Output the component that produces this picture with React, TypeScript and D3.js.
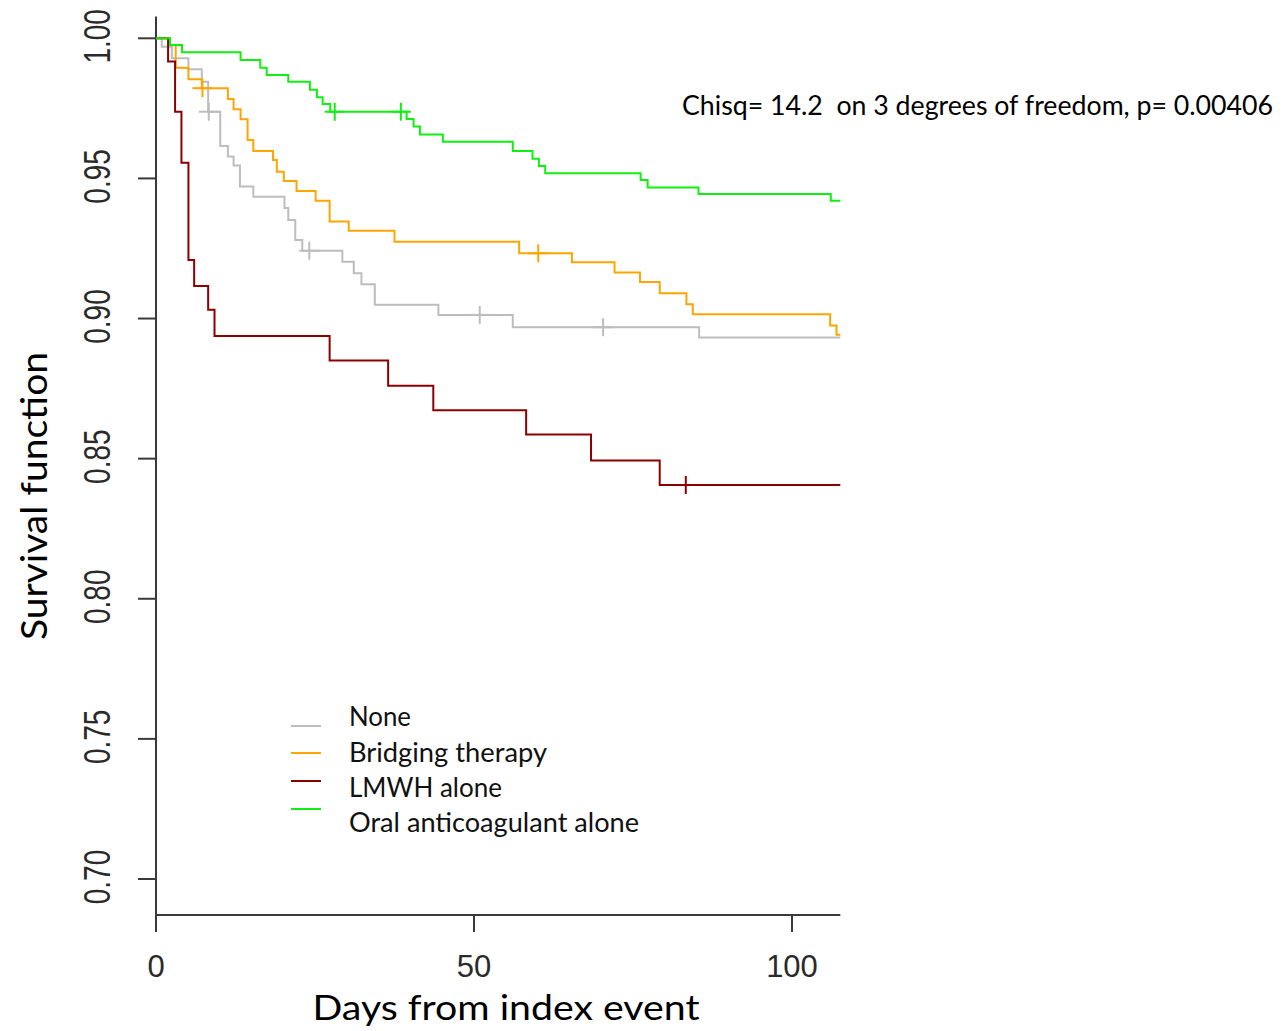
import React, { useEffect, useRef } from 'react';
import * as d3 from 'd3';

// Kaplan-Meier steps (day of drop, survival after drop)
const groupNames = ['None', 'Bridging therapy', 'LMWH alone', 'Oral anticoagulant alone'];
const groupColors = ['#bdbdbd', '#ffa500', '#8b0000', '#11ee11'];

const noneTimes = [0.9, 2.5, 5.1, 7.2, 8.2, 10.1, 11.3, 12.2, 13.2, 15.3, 20.2, 20.8, 21.9, 23.0, 29.3, 31.1, 32.3, 34.4, 44.4, 56.1, 85.4];
const noneSurv = [0.997, 0.9929, 0.989, 0.9845, 0.9738, 0.9616, 0.9578, 0.9546, 0.9471, 0.9435, 0.9394, 0.9352, 0.928, 0.9242, 0.9203, 0.9162, 0.9122, 0.9049, 0.9013, 0.8969, 0.8932];
const noneCensor = [8.3, 24.1, 50.9, 70.3];

const bridgingTimes = [2.2, 3.1, 5.1, 7.2, 11.3, 12.2, 13.3, 14.4, 15.3, 18.4, 19.0, 20.1, 22.1, 25.1, 27.3, 30.3, 37.5, 57.1, 65.4, 72.1, 76.1, 79.2, 83.4, 84.4, 106.0, 107.0];
const bridgingSurv = [0.9976, 0.9895, 0.9854, 0.9822, 0.9783, 0.9747, 0.9711, 0.9637, 0.9598, 0.9566, 0.9524, 0.9491, 0.9455, 0.942, 0.9346, 0.9313, 0.9274, 0.9233, 0.9201, 0.9164, 0.913, 0.909, 0.9051, 0.9015, 0.8975, 0.8942];
const bridgingCensor = [7.3, 60.1];

const lmwhTimes = [1.9, 3.0, 4.0, 5.1, 6.0, 8.2, 9.2, 27.3, 36.5, 43.6, 58.2, 68.4, 79.2];
const lmwhSurv = [0.9917, 0.9738, 0.9556, 0.9209, 0.9116, 0.9031, 0.8938, 0.885, 0.876, 0.8673, 0.8586, 0.8493, 0.8406];
const lmwhCensor = [83.3];

const oralTimes = [2.2, 4.1, 13.3, 16.4, 17.4, 20.8, 24.2, 25.3, 26.2, 27.4, 39.4, 40.5, 41.5, 45.1, 56.1, 59.2, 60.2, 61.2, 76.2, 77.3, 85.3, 106.1];
const oralSurv = [0.9976, 0.995, 0.9923, 0.9895, 0.9869, 0.9845, 0.9816, 0.979, 0.9766, 0.9738, 0.9712, 0.9685, 0.9657, 0.9631, 0.9598, 0.957, 0.9544, 0.9518, 0.9494, 0.9468, 0.9444, 0.942];
const oralCensor = [28.1, 38.5];

const xTicks = [0, 50, 100];
const yTicks = [0.70, 0.75, 0.80, 0.85, 0.90, 0.95, 1.00];
const xMax = 107.6;

const testLabel = 'Chisq= 14.2  on 3 degrees of freedom, p= 0.00406';
const xTitle = 'Days from index event';
const yTitle = 'Survival function';

const KMChart = () => {
  const svgRef = useRef<SVGSVGElement>(null);

  useEffect(() => {
    if (!svgRef.current) return;
    d3.select(svgRef.current).selectAll('*').remove();

    const width = 1284;
    const height = 1031;
    const svg = d3.select(svgRef.current).attr('width', width).attr('height', height);

    const x = d3.scaleLinear().domain([0, 100]).range([156, 792]);
    const y = d3.scaleLinear().domain([0.70, 1.00]).range([879, 38.3]);
    const axisColor = '#3a3a3a';
    const sans = 'Lato, "Open Sans", sans-serif';

    // axes lines
    const axisBottom = 915;
    svg.append('line')
      .attr('x1', x(0)).attr('x2', x(0))
      .attr('y1', 16.5).attr('y2', axisBottom)
      .attr('stroke', axisColor).attr('stroke-width', 2);
    svg.append('line')
      .attr('x1', x(0)).attr('x2', x(xMax))
      .attr('y1', axisBottom).attr('y2', axisBottom)
      .attr('stroke', axisColor).attr('stroke-width', 2);

    // y ticks
    svg.append('g').selectAll('line')
      .data(yTicks).enter().append('line')
      .attr('x1', x(0) - 18).attr('x2', x(0))
      .attr('y1', d => y(d)).attr('y2', d => y(d))
      .attr('stroke', axisColor).attr('stroke-width', 2);
    svg.append('g').selectAll('text')
      .data(yTicks).enter().append('text')
      .attr('transform', d => `translate(110, ${y(d) - 2}) rotate(-90) scale(1, 1.35)`)
      .attr('text-anchor', 'middle')
      .attr('font-family', '"Liberation Sans", Arial, sans-serif')
      .attr('font-size', 28)
      .attr('fill', '#2a2a2a')
      .text(d => d.toFixed(2));

    // x ticks
    svg.append('g').selectAll('line')
      .data(xTicks).enter().append('line')
      .attr('x1', d => x(d)).attr('x2', d => x(d))
      .attr('y1', axisBottom).attr('y2', axisBottom + 17)
      .attr('stroke', axisColor).attr('stroke-width', 2);
    svg.append('g').selectAll('text')
      .data(xTicks).enter().append('text')
      .attr('x', d => x(d)).attr('y', 977)
      .attr('text-anchor', 'middle')
      .attr('font-family', '"Liberation Sans", Arial, sans-serif')
      .attr('font-size', 31)
      .attr('fill', '#2a2a2a')
      .text(d => d);

    // titles
    svg.append('text')
      .attr('x', 506).attr('y', 1020)
      .attr('text-anchor', 'middle')
      .attr('font-family', sans).attr('font-size', 35)
      .attr('textLength', 387).attr('lengthAdjust', 'spacingAndGlyphs')
      .attr('fill', '#000')
      .text(xTitle);
    svg.append('text')
      .attr('transform', 'translate(47, 496) rotate(-90)')
      .attr('text-anchor', 'middle')
      .attr('font-family', sans).attr('font-size', 37)
      .attr('textLength', 288).attr('lengthAdjust', 'spacingAndGlyphs')
      .attr('fill', '#000')
      .text(yTitle);

    // log-rank annotation
    svg.append('text')
      .attr('x', 682).attr('y', 115)
      .attr('font-family', sans).attr('font-size', 27)
      .attr('textLength', 591).attr('lengthAdjust', 'spacingAndGlyphs')
      .attr('fill', '#000')
      .style('white-space', 'pre')
      .text(testLabel);

    // curves
    const groups = [
      { times: noneTimes, surv: noneSurv, censor: noneCensor },
      { times: bridgingTimes, surv: bridgingSurv, censor: bridgingCensor },
      { times: lmwhTimes, surv: lmwhSurv, censor: lmwhCensor },
      { times: oralTimes, surv: oralSurv, censor: oralCensor },
    ];

    const line = d3.line<[number, number]>()
      .x(d => x(d[0]))
      .y(d => y(d[1]))
      .curve(d3.curveStepAfter);

    const survAt = (g, t) => {
      let s = 1;
      g.times.forEach((tt, i) => { if (tt <= t) s = g.surv[i]; });
      return s;
    };

    groups.forEach((g, gi) => {
      const pts: [number, number][] = [[0, 1]];
      g.times.forEach((t, i) => pts.push([t, g.surv[i]]));
      pts.push([xMax, g.surv[g.surv.length - 1]]);

      svg.append('path')
        .attr('d', line(pts))
        .attr('fill', 'none')
        .attr('stroke', groupColors[gi])
        .attr('stroke-width', 2);

      const marks = svg.append('g').selectAll('g')
        .data(g.censor).enter().append('g')
        .attr('transform', t => `translate(${x(t)}, ${y(survAt(g, t))})`);
      marks.append('line')
        .attr('x1', -10).attr('x2', 10).attr('y1', 0).attr('y2', 0)
        .attr('stroke', groupColors[gi]).attr('stroke-width', 2);
      marks.append('line')
        .attr('x1', 0).attr('x2', 0).attr('y1', -9).attr('y2', 9)
        .attr('stroke', groupColors[gi]).attr('stroke-width', 2);
    });

    // legend
    const legendLineY = [726, 753, 781, 809];
    const legendTextY = [726, 762, 797, 832];
    const legendTextLen = [62, 198, 153, 290];
    const legend = svg.append('g');
    legend.selectAll('line')
      .data(groupNames).enter().append('line')
      .attr('x1', 291).attr('x2', 321)
      .attr('y1', (d, i) => legendLineY[i]).attr('y2', (d, i) => legendLineY[i])
      .attr('stroke', (d, i) => groupColors[i]).attr('stroke-width', 2);
    legend.selectAll('text')
      .data(groupNames).enter().append('text')
      .attr('x', 349).attr('y', (d, i) => legendTextY[i])
      .attr('font-family', sans).attr('font-size', 26)
      .attr('textLength', (d, i) => legendTextLen[i]).attr('lengthAdjust', 'spacingAndGlyphs')
      .attr('fill', '#111')
      .text(d => d);
  }, []);

  return <svg ref={svgRef} style={{ display: 'block' }}></svg>;
};

export default function App() {
  return (
    <div style={{ position: 'absolute', left: 0, top: 0, background: '#fff' }}>
      <KMChart />
    </div>
  );
}
